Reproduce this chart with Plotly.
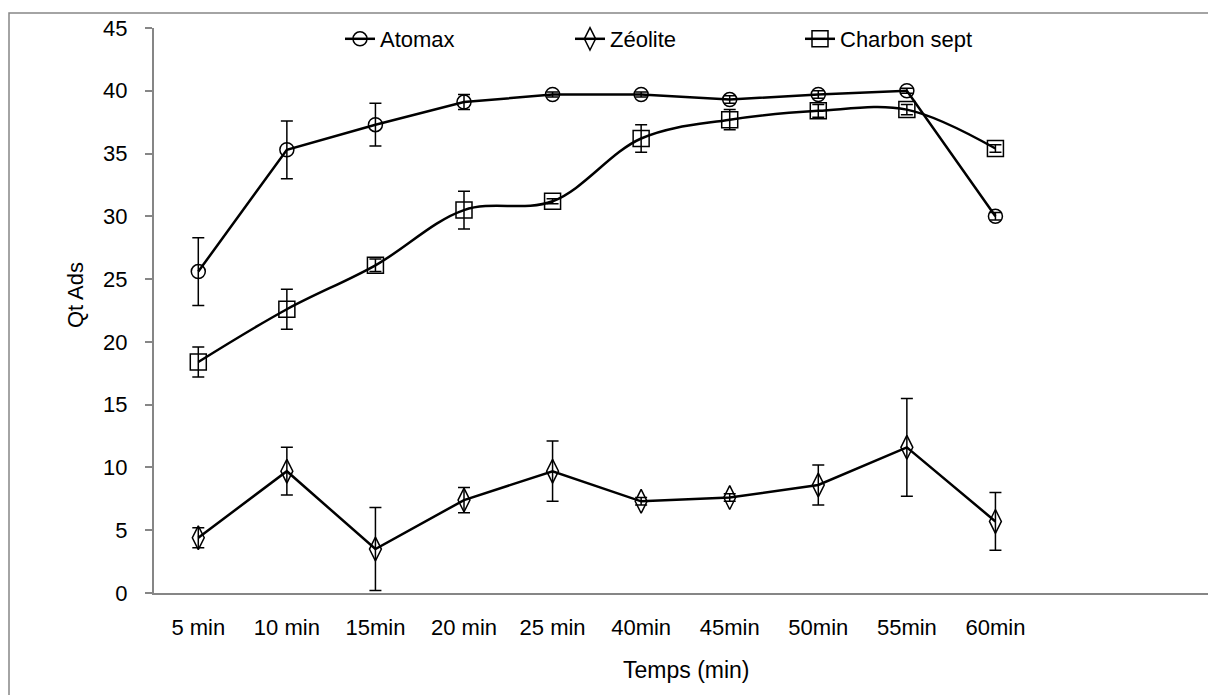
import plotly.graph_objects as go

categories = ["5 min", "10 min", "15min", "20 min", "25 min", "40min", "45min", "50min", "55min", "60min"]

atomax = [25.6, 35.3, 37.3, 39.1, 39.7, 39.7, 39.3, 39.7, 40.0, 30.0]
atomax_err = [2.7, 2.3, 1.7, 0.6, 0.2, 0.2, 0.3, 0.3, 0.2, 0.3]

zeolite = [4.4, 9.7, 3.5, 7.4, 9.7, 7.3, 7.6, 8.6, 11.6, 5.7]
zeolite_err = [0.8, 1.9, 3.3, 1.0, 2.4, 0.3, 0.3, 1.6, 3.9, 2.3]

charbon = [18.4, 22.6, 26.1, 30.5, 31.2, 36.2, 37.7, 38.4, 38.5, 35.4]
charbon_err = [1.2, 1.6, 0.5, 1.5, 0.2, 1.1, 0.8, 0.5, 0.4, 0.3]

FONT = "Liberation Sans, Arial, sans-serif"

W, H = 1208, 695
L, R, T, B = 154, 0, 28, 102
pw = W - L - R
ph = H - T - B

fig = go.Figure()

def add(name, y, err, symbol, size, shape="linear"):
    fig.add_trace(go.Scatter(
        x=categories, y=y, name=name, mode="lines+markers",
        line=dict(color="black", width=2.5, shape=shape, smoothing=1.0),
        marker=dict(symbol=symbol, size=size, color="black",
                    line=dict(color="black", width=1.5)),
        error_y=dict(type="data", array=err, visible=True,
                     color="black", thickness=1.5, width=6),
    ))

add("Atomax", atomax, atomax_err, "circle-open", 14)
add("Zéolite", zeolite, zeolite_err, "diamond-tall-open", 17)
add("Charbon sept", charbon, charbon_err, "square-open", 16, shape="spline")

fig.update_layout(
    width=W, height=H,
    margin=dict(l=L, r=R, t=T, b=B),
    paper_bgcolor="white", plot_bgcolor="white",
    showlegend=True,
    legend=dict(orientation="h", x=(340 - L) / pw, xanchor="left",
                y=(H - B - 39) / ph, yanchor="middle",
                font=dict(family=FONT, size=22, color="black"),
                entrywidth=185, entrywidthmode="pixels",
                bgcolor="rgba(0,0,0,0)"),
    xaxis=dict(type="category", range=[-0.5, 11.4],
               showline=True, linecolor="#868686", linewidth=2,
               ticks="", showgrid=False, zeroline=False, ticklabelstandoff=14,
               tickfont=dict(family=FONT, size=22, color="black")),
    yaxis=dict(range=[0, 45], dtick=5, showline=True, linecolor="#868686", linewidth=2,
               ticks="outside", ticklen=7, tickcolor="#868686", tickwidth=1.5,
               showgrid=False, zeroline=False, ticklabelstandoff=13,
               tickfont=dict(family=FONT, size=22, color="black")),
    annotations=[
        dict(text="Qt Ads", xref="paper", yref="paper", x=(75 - L) / pw, y=(H - B - 295) / ph,
             xanchor="center", yanchor="middle",
             showarrow=False, textangle=-90, font=dict(family=FONT, size=22, color="black")),
        dict(text="Temps (min)", xref="paper", yref="paper", x=(686 - L) / pw, y=(H - B - 670) / ph,
             xanchor="center", yanchor="middle",
             showarrow=False, font=dict(family=FONT, size=23, color="black")),
    ],
    shapes=[
        dict(type="rect", xref="paper", yref="paper",
             x0=(9 - L) / pw, x1=1.1, y0=-0.5, y1=(H - B - 13) / ph,
             line=dict(color="#868686", width=1.5), fillcolor="rgba(0,0,0,0)", layer="below"),
    ],
)

fig.write_html("out.html")
